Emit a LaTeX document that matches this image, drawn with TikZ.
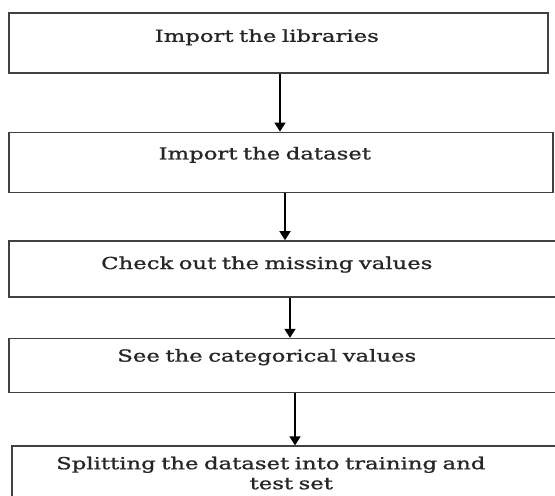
\documentclass[tikz,border=0pt]{standalone}
\usepackage{fontspec}
\setmainfont{DejaVu Serif}[FakeStretch=1.38, FakeBold=1.2]
\usetikzlibrary{arrows.meta, positioning}

\begin{document}
\begin{tikzpicture}[
    x=1pt, y=-1pt,
    stepbox/.style={rectangle, draw=black!75, line width=1.6pt, anchor=north west, inner sep=0pt, align=center, text=black!85, font=\fontsize{16.5}{20}\selectfont},
    arrow/.style={-{Triangle[length=9pt, width=11pt]}, line width=1.5pt}
]
\clip (0,0) rectangle (555,496);
\node[stepbox, text width=539pt, text height=29pt, text depth=31pt] (libs) at (8,12) {\hspace*{-23pt}Import the libraries};
\node[stepbox, text width=544pt, text height=27pt, text depth=33pt, below=58pt of libs.south west, anchor=north west] (data) {\hspace*{-32pt}Import the dataset};
\node[stepbox, text width=557pt, text height=28pt, text depth=28pt, below=47pt of data.south west, anchor=north west] (missing) {\hspace*{-41pt}Check out the missing values};
\node[stepbox, text width=557pt, text height=23pt, text depth=31pt, below=40pt of missing.south west, anchor=north west] (categ) {\hspace*{-41pt}See the categorical values};
\node[stepbox, text width=559pt, text height=23pt, text depth=60pt, below=52pt of categ.south west, anchor=north west, xshift=3pt] (split) {\hspace*{-41pt}Splitting the dataset into training and\\test set};

\draw[arrow] (libs.south -| 280,0) -- (data.north -| 280,0);
\draw[arrow] (data.south -| 285,0) -- (missing.north -| 285,0);
\draw[arrow] (missing.south -| 290,0) -- (categ.north -| 290,0);
\draw[arrow] (categ.south -| 295,0) -- (split.north -| 295,0);
\end{tikzpicture}
\end{document}
